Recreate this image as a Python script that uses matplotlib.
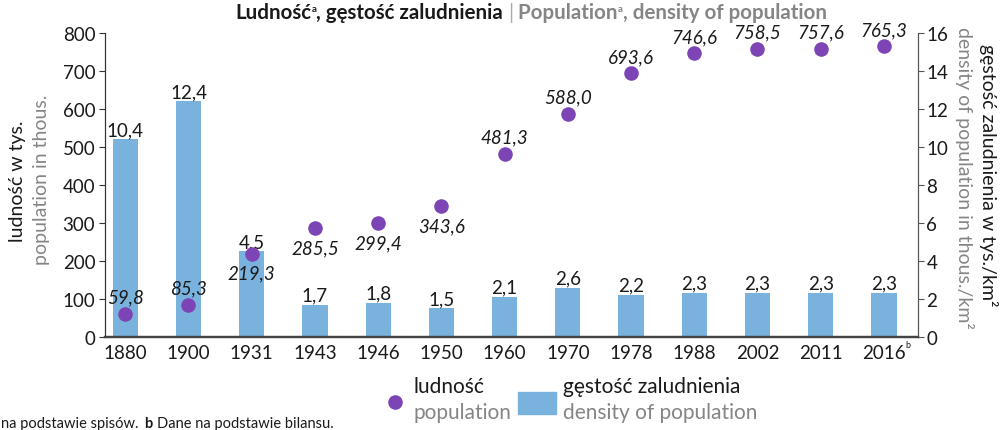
import matplotlib.pyplot as plt
from matplotlib.lines import Line2D
from matplotlib.patches import Rectangle

years = ['1880', '1900', '1931', '1943', '1946', '1950', '1960',
         '1970', '1978', '1988', '2002', '2011', '2016']
population = [59.8, 85.3, 219.3, 285.5, 299.4, 343.6, 481.3,
              588.0, 693.6, 746.6, 758.5, 757.6, 765.3]
density = [10.4, 12.4, 4.5, 1.7, 1.8, 1.5, 2.1, 2.6, 2.2, 2.3, 2.3, 2.3, 2.3]
# population labels drawn under the dot instead of above
pop_below = ['1931', '1943', '1946', '1950']

BLUE = '#7ab2de'
PURPLE = '#7d44b5'
GREY = '#858585'
DARK = '#1a1a1a'

plt.rcParams['font.family'] = ['Lato', 'DejaVu Sans']


def fmt(v):
    return f'{v:.1f}'.replace('.', ',')


fig = plt.figure(figsize=(10.05, 4.31), dpi=100)
fig.patch.set_facecolor('white')
ax = fig.add_axes([0.1045, 0.216, 0.809, 0.705])
ax2 = ax.twinx()
# dots above bars
ax.set_zorder(ax2.get_zorder() + 1)
ax.patch.set_visible(False)

xs = list(range(len(years)))
ax2.bar(xs, density, width=0.4, color=BLUE, zorder=2)
ax.scatter(xs, population, s=110, color=PURPLE, zorder=3, linewidths=0)

for x, v in zip(xs, density):
    ax2.annotate(fmt(v), (x, v), xytext=(0, 1), textcoords='offset points',
                 ha='center', va='bottom', fontsize=13.5, color=DARK)
for x, y, v in zip(xs, years, population):
    if y in pop_below:
        ax.annotate(fmt(v), (x, v), xytext=(0, -8), textcoords='offset points',
                    ha='center', va='top', fontsize=13.5, style='italic', color=DARK)
    else:
        ax.annotate(fmt(v), (x, v), xytext=(0, 6), textcoords='offset points',
                    ha='center', va='bottom', fontsize=13.5, style='italic', color=DARK)

ax.set_xlim(-0.32, 12.54)
ax.set_ylim(0, 800)
ax2.set_ylim(0, 16)
ax.set_yticks(range(0, 801, 100))
ax2.set_yticks(range(0, 17, 2))
ax.set_xticks(xs)
ax.set_xticklabels(years)

for a in (ax, ax2):
    a.spines['top'].set_visible(False)
    a.spines['left'].set_color('#333333')
    a.spines['right'].set_color('#555555')
    a.spines['bottom'].set_color('#444444')
    a.spines['bottom'].set_linewidth(1.6)
ax.tick_params(axis='y', length=4, width=0.8, color='#333333', labelsize=13.5,
               labelcolor=DARK, pad=3)
ax2.tick_params(axis='y', length=4, width=0.8, color='#555555', labelsize=13.5,
                labelcolor=DARK, pad=2)
ax.tick_params(axis='x', length=0, labelsize=13.5, labelcolor=DARK, pad=5)

# superscript b on 2016
ax.annotate('b', (12, 0), xytext=(15.5, -5.5), textcoords='offset points',
            ha='left', va='center', fontsize=6.5, color=DARK)

# axis titles
fig.text(17 / 1005, 1 - 181 / 431, 'ludność w tys.', rotation=90,
         ha='center', va='center', fontsize=14, color=DARK)
fig.text(42 / 1005, 1 - 180 / 431, 'population in thous.', rotation=90,
         ha='center', va='center', fontsize=14, color=GREY)
fig.text(988 / 1005, 1 - 175 / 431, 'gęstość zaludnienia w tys./km²', rotation=-90,
         ha='center', va='center', fontsize=14, color=DARK)
fig.text(964 / 1005, 1 - 178 / 431, 'density of population in thous./km²', rotation=-90,
         ha='center', va='center', fontsize=14, color=GREY)

# title built from pieces
pieces = [('Ludność', DARK, 14.8, 'bold', 0),
          ('a', DARK, 7, 'bold', 7),
          (', gęstość zaludnienia ', DARK, 14.8, 'bold', 0),
          ('|', '#aaaaaa', 14.8, 'normal', 0),
          (' Population', GREY, 14.8, 'bold', 0),
          ('a', GREY, 7, 'bold', 7),
          (', density of population', GREY, 14.8, 'bold', 0)]
fig.canvas.draw()
renderer = fig.canvas.get_renderer()
texts = []
for s, c, fs, fw, rise in pieces:
    t = fig.text(0, 0, s, color=c, fontsize=fs, fontweight=fw, ha='left', va='baseline')
    texts.append((t, rise))
total = sum(t.get_window_extent(renderer).width for t, _ in texts)
x = 531 - total / 2
base = 431 - 19
for t, rise in texts:
    w = t.get_window_extent(renderer).width
    t.set_position((x / 1005, (base + rise) / 431))
    x += w

# legend
fig.add_artist(Line2D([395 / 1005], [1 - 403 / 431], marker='o', markersize=10.5,
                      color=PURPLE, linestyle='none', markeredgewidth=0,
                      transform=fig.transFigure))
fig.text(413 / 1005, 1 - 387 / 431, 'ludność', ha='left', va='center',
         fontsize=15, color=DARK)
fig.text(413 / 1005, 1 - 413 / 431, 'population', ha='left', va='center',
         fontsize=15, color=GREY)
fig.add_artist(Rectangle((518 / 1005, 1 - 415 / 431), 38 / 1005, 22 / 431,
                         color=BLUE, transform=fig.transFigure))
fig.text(563 / 1005, 1 - 387 / 431, 'gęstość zaludnienia', ha='left', va='center',
         fontsize=15, color=DARK)
fig.text(563 / 1005, 1 - 413 / 431, 'density of population', ha='left', va='center',
         fontsize=15, color=GREY)

# footnotes
fig.text(1 / 1005, 1 - 424 / 431, 'na podstawie spisów.', ha='left',
         va='center', fontsize=10.5, color=DARK)
fig.text(144 / 1005, 1 - 424 / 431, 'b', ha='left', va='center', fontsize=10.5,
         fontweight='bold', color=DARK)
fig.text(157 / 1005, 1 - 424 / 431, 'Dane na podstawie bilansu.', ha='left',
         va='center', fontsize=10.5, color=DARK)

fig.savefig('out.png', dpi=100)
